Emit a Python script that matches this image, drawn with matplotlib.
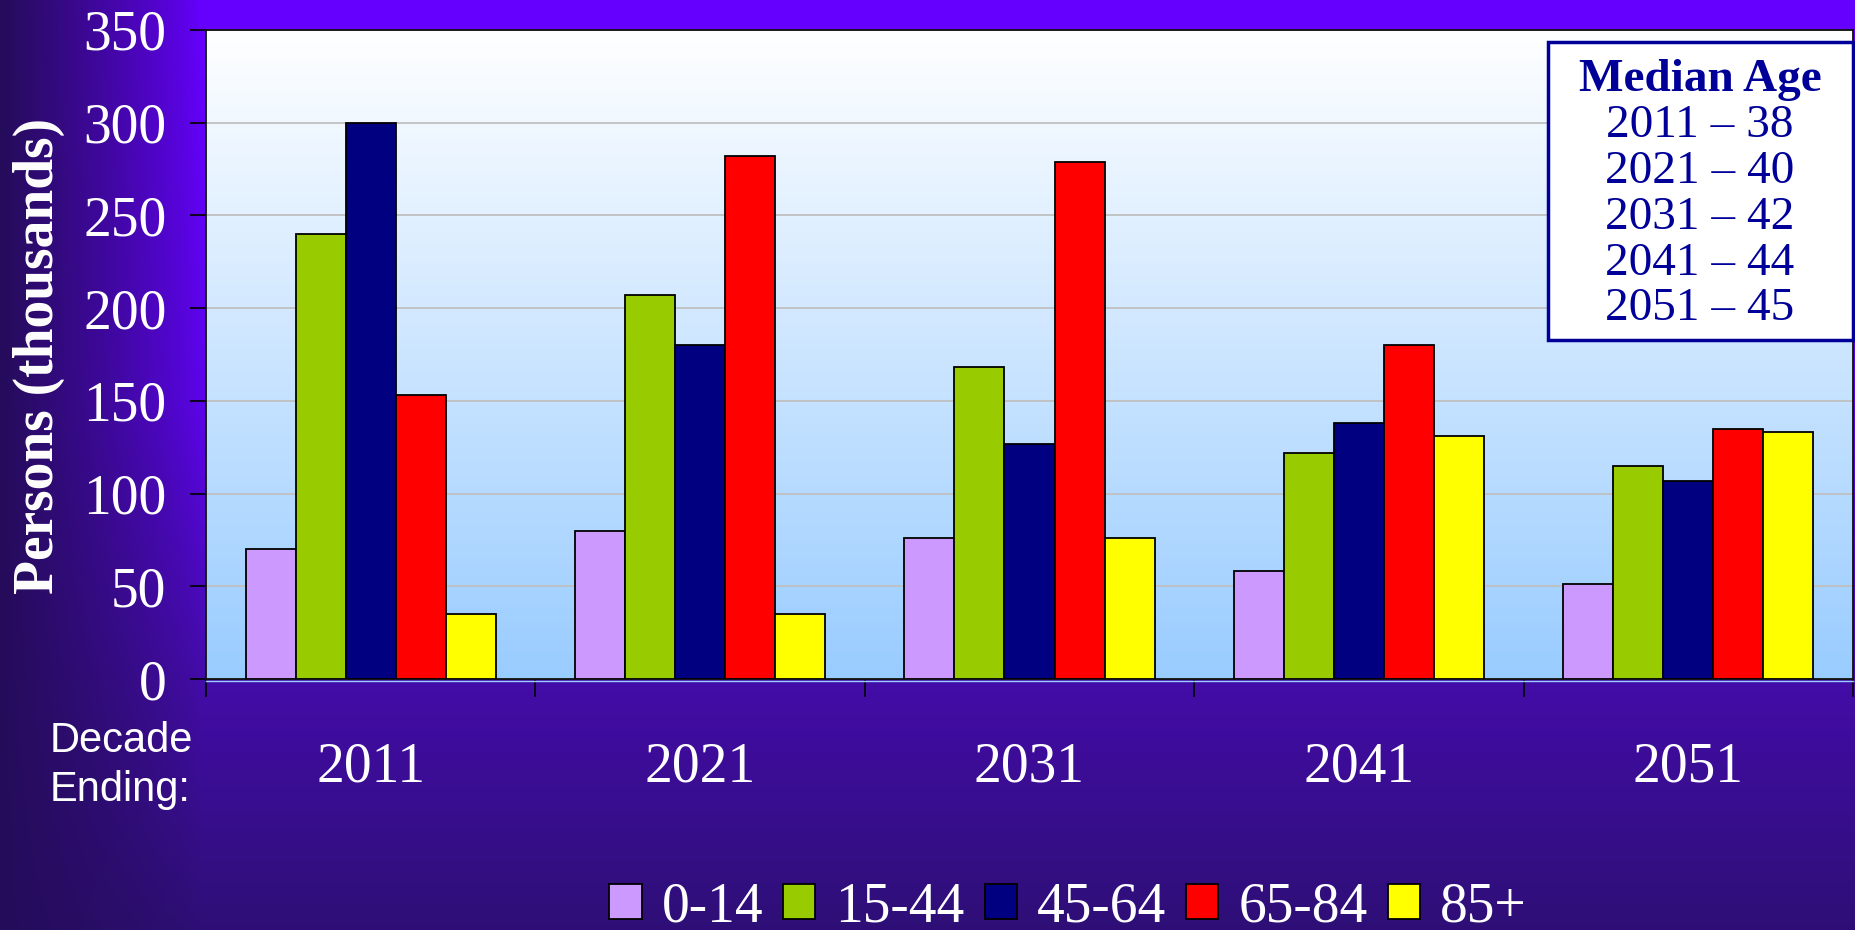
import numpy as np
import matplotlib.pyplot as plt
from matplotlib.patches import Rectangle
from matplotlib.colors import to_rgb

# -----------------------------
# DATA
# -----------------------------
decades = ["2011", "2021", "2031", "2041", "2051"]
age_groups = ["0-14", "15-44", "45-64", "65-84", "85+"]

age_0_14 = [70, 80, 76, 58, 51]
age_15_44 = [240, 207, 168, 122, 115]
age_45_64 = [300, 180, 127, 138, 107]
age_65_84 = [153, 282, 279, 180, 135]
age_85_plus = [35, 35, 76, 131, 133]

median_years = ["2011", "2021", "2031", "2041", "2051"]
median_ages = [38, 40, 42, 44, 45]

y_ticks = [0, 50, 100, 150, 200, 250, 300, 350]

# -----------------------------
# CONFIG
# -----------------------------
W, H = 1856, 930
DPI = 100

BAR_COLORS = ["#CC99FF", "#99CC00", "#000080", "#FF0000", "#FFFF00"]
BAR_WIDTH = 0.152

SERIF = "Liberation Serif"
SANS = "Liberation Sans"
BOX_BLUE = "#000099"

# plot area in pixels (left, top, right, bottom)
PX_LEFT, PX_TOP, PX_RIGHT, PX_BOTTOM = 206, 30, 1853, 679


def fx(px):
    return px / W


def fy(py):
    return 1 - py / H


def background_image():
    # vertical purple gradient, darkened toward the left edge
    stops_y = np.array([0, 400, 680, 930]) / H
    stops_c = np.array([to_rgb(c) for c in ["#6600FF", "#5C04EA", "#430CA8", "#2E0F76"]])
    yy = np.linspace(0, 1, H)
    vert = np.stack([np.interp(yy, stops_y, stops_c[:, k]) for k in range(3)], axis=1)

    xx = np.arange(W)
    t = np.clip(xx / 200.0, 0, 1)
    w = (1 - t) ** 0.8
    dark = np.array(to_rgb("#250C5A"))

    img = vert[:, None, :] * (1 - w[None, :, None]) + dark[None, None, :] * w[None, :, None]
    return np.clip(img, 0, 1)


def main():
    fig = plt.figure(figsize=(W / DPI, H / DPI), dpi=DPI)

    # background
    bg = fig.add_axes([0, 0, 1, 1])
    bg.imshow(background_image(), aspect="auto", extent=[0, 1, 0, 1], origin="upper")
    bg.set_axis_off()

    ax = fig.add_axes([fx(PX_LEFT), fy(PX_BOTTOM), fx(PX_RIGHT - PX_LEFT), (PX_BOTTOM - PX_TOP) / H])

    # plot area gradient (white -> light blue)
    grad = np.linspace(0, 1, 256)[:, None]
    top = np.array(to_rgb("#FFFFFF"))
    bot = np.array(to_rgb("#99CCFF"))
    grad_img = top[None, None, :] * (1 - grad[..., None]) + bot[None, None, :] * grad[..., None]
    ax.imshow(grad_img, extent=[-0.5, 4.5, 0, 350], aspect="auto", origin="upper", zorder=0)

    series = [age_0_14, age_15_44, age_45_64, age_65_84, age_85_plus]
    x = np.arange(len(decades))
    handles = []
    for i, (vals, color) in enumerate(zip(series, BAR_COLORS)):
        b = ax.bar(x + (i - 2) * BAR_WIDTH, vals, BAR_WIDTH, color=color,
                   edgecolor="black", linewidth=1.3, zorder=3, label=age_groups[i])
        handles.append(b)

    ax.set_xlim(-0.5, 4.5)
    ax.set_ylim(0, 350)

    ax.set_axisbelow(True)
    ax.yaxis.grid(True, color="#C0C0C0", linewidth=1.3)

    ax.set_yticks(y_ticks)
    ax.set_yticklabels([str(v) for v in y_ticks], family=SERIF)
    ax.tick_params(axis="y", direction="out", length=11.5, width=1.2, color="black",
                   labelsize=40, labelcolor="white", pad=17)

    ax.set_xticks(x)
    ax.set_xticklabels(decades, family=SERIF)
    ax.tick_params(axis="x", which="major", length=0, labelsize=40, labelcolor="white", pad=45)
    ax.set_xticks(np.arange(-0.5, 5.0, 1.0), minor=True)
    ax.tick_params(axis="x", which="minor", direction="out", length=13, width=1.2, color="black")

    for side in ["left", "bottom", "top", "right"]:
        ax.spines[side].set_color("#111111")
        ax.spines[side].set_linewidth(1.3)

    # thin light line just under the x axis
    fig.add_artist(plt.Line2D([fx(PX_LEFT), fx(PX_RIGHT)], [fy(PX_BOTTOM + 2)] * 2,
                              color="#99CCFF", linewidth=1.0))

    # y label
    fig.text(fx(39), fy(356), "Persons (thousands)", rotation=90, ha="center", va="center",
             family=SERIF, weight="bold", fontsize=40, color="white")

    # "Decade Ending:"
    fig.text(fx(50), fy(752), "Decade", ha="left", va="baseline", family=SANS,
             fontsize=30, color="white")
    fig.text(fx(50), fy(801), "Ending:", ha="left", va="baseline", family=SANS,
             fontsize=30, color="white")

    # median age box
    box = Rectangle((fx(1548), fy(340)), fx(1853 - 1548), (340 - 42) / H,
                    transform=fig.transFigure, facecolor="white", edgecolor=BOX_BLUE,
                    linewidth=2.5, zorder=5)
    fig.patches.append(box)
    fig.text(fx(1700), fy(91), "Median Age", ha="center", va="baseline", family=SERIF,
             weight="bold", fontsize=34, color=BOX_BLUE, zorder=6)
    baselines = [137, 183, 229, 275, 320]
    for yr, age, by in zip(median_years, median_ages, baselines):
        fig.text(fx(1700), fy(by), f"{yr} \u2013 {age}", ha="center", va="baseline",
                 family=SERIF, fontsize=34, color=BOX_BLUE, zorder=6)

    # legend
    leg = fig.legend(handles=handles, loc="center", bbox_to_anchor=(fx(1068), fy(907)),
                     ncol=5, frameon=False, handlelength=0.58, handleheight=0.58,
                     handletextpad=0.36, columnspacing=0.36, borderpad=0,
                     prop={"family": SERIF, "size": 40})
    for t in leg.get_texts():
        t.set_color("white")

    fig.savefig("out.png", dpi=DPI)
    plt.close(fig)


if __name__ == "__main__":
    main()
